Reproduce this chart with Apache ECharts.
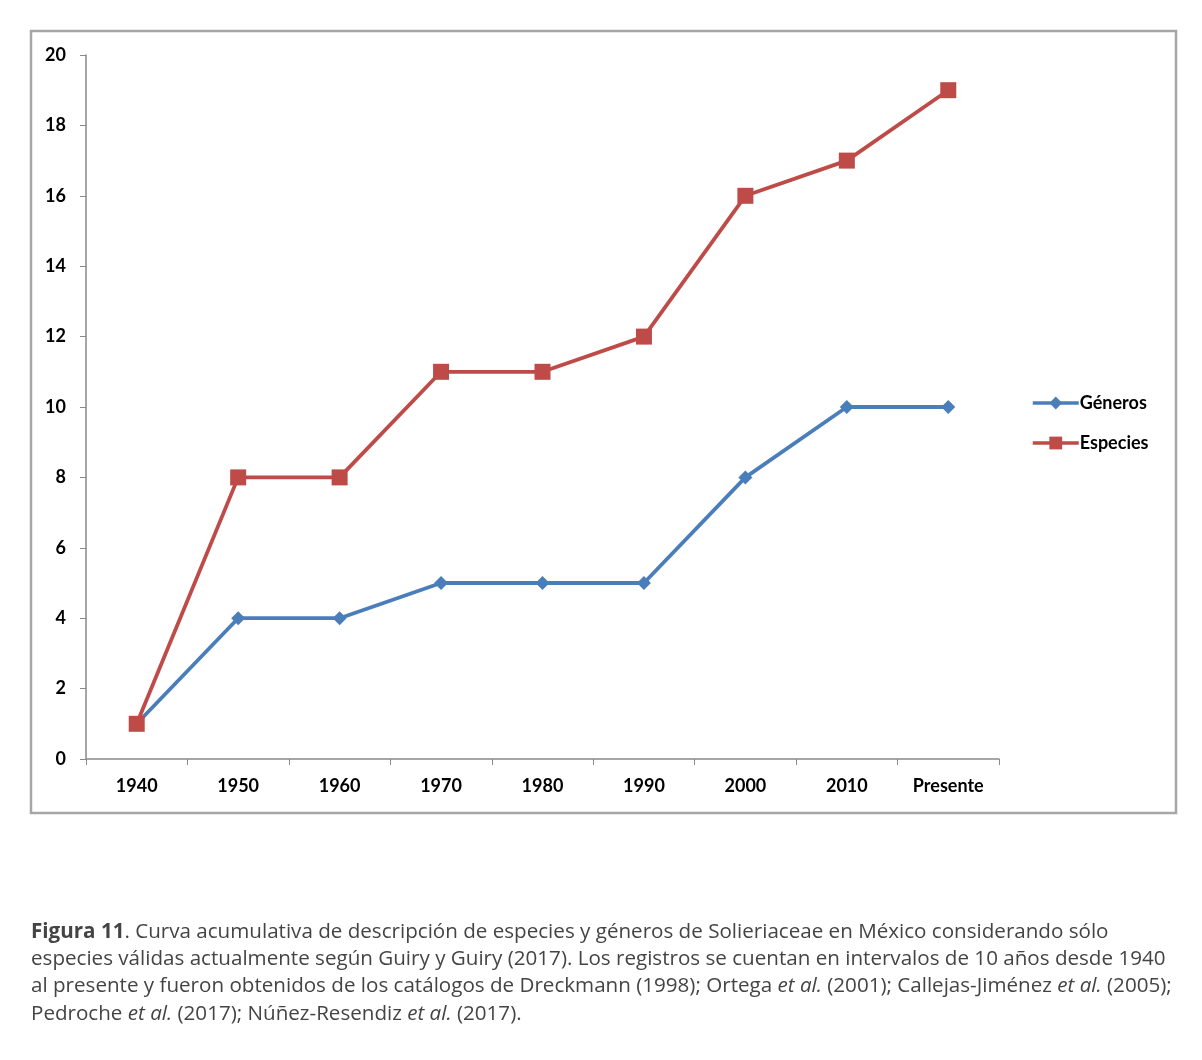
<!DOCTYPE html>
<html><head><meta charset="utf-8">
<script src="https://cdn.jsdelivr.net/npm/echarts@6/dist/echarts.min.js"></script>
<style>html,body{margin:0;padding:0;background:#fff}#c{width:1202px;height:1060px}</style>
</head><body><div id="c"></div>
<script>
var categories = ['1940','1950','1960','1970','1980','1990','2000','2010','Presente'];
var generos = [1,4,4,5,5,5,8,10,10];
var especies = [1,8,8,11,11,12,16,17,19];
var yTicks = {min:0, max:20, interval:2};

var chart = echarts.init(document.getElementById('c'), null, {renderer:'canvas'});
var axisFont = {fontFamily:'Lato', fontWeight:'bold', fontSize:18, color:'#000'};
var FS = 20.6;
var capBase = {fontFamily:'Open Sans', fontSize:FS, fill:'#444'};
function capLine(y, rich, text){
  return {type:'text', left:31, top:y, style:Object.assign({text:text, rich:rich}, capBase)};
}
var rich = {
  b:{fontFamily:'Open Sans', fontSize:FS, fontWeight:'bold', color:'#444'},
  n:{fontFamily:'Open Sans', fontSize:FS, color:'#444'},
  i:{fontFamily:'Open Sans', fontSize:FS, fontStyle:'italic', color:'#444'}
};
chart.setOption({
  animation:false,
  grid:{left:86, right:203, top:55, bottom:301, containLabel:false},
  legend:{
    orient:'vertical', left:1031, top:394, padding:0, itemWidth:46, itemHeight:16, itemGap:22,
    lineStyle:{width:3.5},
    textStyle:{fontFamily:'Lato', fontWeight:'bold', fontSize:18, color:'#000', padding:[0,0,0,-4]},
    data:['Géneros','Especies']
  },
  xAxis:{
    type:'category', data:categories, boundaryGap:true,
    axisLine:{lineStyle:{color:'#898989', width:1.5}},
    axisTick:{show:true, alignWithLabel:false, length:6, lineStyle:{color:'#898989'}},
    axisLabel:Object.assign({margin:18, interval:0}, axisFont),
    splitLine:{show:false}
  },
  yAxis:{
    type:'value', min:yTicks.min, max:yTicks.max, interval:yTicks.interval,
    axisLine:{show:true, lineStyle:{color:'#898989', width:1.5}},
    axisTick:{show:true, length:6, lineStyle:{color:'#898989'}},
    axisLabel:Object.assign({margin:20}, axisFont),
    splitLine:{show:false}
  },
  series:[
    {name:'Géneros', type:'line', data:generos, symbol:'diamond', symbolSize:14,
     lineStyle:{color:'#4A7EBB', width:3.8}, itemStyle:{color:'#4A7EBB'}, z:2},
    {name:'Especies', type:'line', data:especies, symbol:'rect', symbolSize:16,
     lineStyle:{color:'#BE4B48', width:3.8}, itemStyle:{color:'#BE4B48'}, z:3}
  ],
  graphic:[
    {type:'rect', shape:{x:31, y:31, width:1145, height:782}, style:{fill:null, stroke:'#a6a6a6', lineWidth:2.5}, silent:true},
    capLine(922, rich, '{b|Figura 11}{n|. Curva acumulativa de descripción de especies y géneros de Solieriaceae en México considerando sólo}'),
    capLine(949, rich, '{n|especies válidas actualmente según Guiry y Guiry (2017). Los registros se cuentan en intervalos de 10 años desde 1940}'),
    capLine(976, rich, '{n|al presente y fueron obtenidos de los catálogos de Dreckmann (1998); Ortega }{i|et al.}{n| (2001); Callejas-Jiménez }{i|et al.}{n| (2005);}'),
    capLine(1004, rich, '{n|Pedroche }{i|et al.}{n| (2017); Núñez-Resendiz }{i|et al.}{n| (2017).}')
  ]
});
</script></body></html>
